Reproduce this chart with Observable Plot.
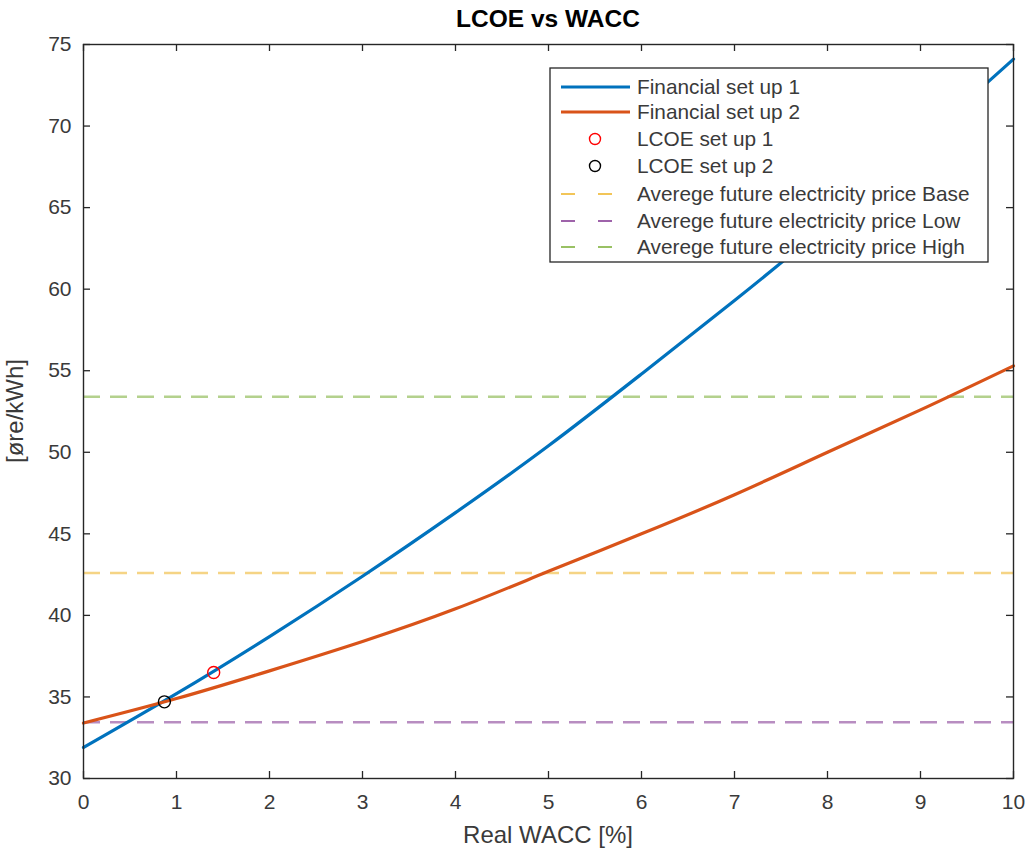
<!DOCTYPE html>
<html>
<head>
<meta charset="utf-8">
<script src="https://cdn.jsdelivr.net/npm/d3@7"></script>
<script src="https://cdn.jsdelivr.net/npm/@observablehq/plot@0.6"></script>
<style>
  html, body { margin: 0; padding: 0; background: #fff; }
  #chart { width: 1030px; height: 854px; }
  svg text { font-family: "Liberation Sans", Arial, Helvetica, sans-serif; }
</style>
</head>
<body>
<div id="chart"></div>
<script>
// ---- data ----
const wacc = [0, 1, 2, 3, 4, 5, 6, 7, 8, 9, 10];
const setup1 = [31.9, 35.2, 38.7, 42.4, 46.3, 50.4, 54.8, 59.3, 64.0, 69.0, 74.1];
const setup2 = [33.4, 34.9, 36.6, 38.4, 40.4, 42.7, 45.0, 47.4, 50.0, 52.6, 55.3];
const lcoePoints = [
  {name: "LCOE set up 1", x: 1.4, y: 36.5},
  {name: "LCOE set up 2", x: 0.87, y: 34.7}
];
const priceNames = ["Averege future electricity price Base", "Averege future electricity price Low", "Averege future electricity price High"];
const priceValues = [42.6, 33.45, 53.4];
const xTicks = [0, 1, 2, 3, 4, 5, 6, 7, 8, 9, 10];
const yTicks = [30, 35, 40, 45, 50, 55, 60, 65, 70, 75];

const C_BLUE = "#0072BD", C_ORANGE = "#D95319", C_YELLOW = "#EDB120", C_PURPLE = "#7E2F8E", C_GREEN = "#77AC30";
const priceColors = [C_YELLOW, C_PURPLE, C_GREEN];
const AX = "#262626";
const TXT = "#3a3a3a";

const s1 = wacc.map((x, i) => ({x, y: setup1[i]}));
const s2 = wacc.map((x, i) => ({x, y: setup2[i]}));
const prices = priceNames.map((n, i) => ({name: n, y: priceValues[i], color: priceColors[i]}));

const W = 1030, H = 854;
const mL = 83, mR = 17, mT = 44, mB = 76;
const yPx = (H - mT - mB) / 45;  // px per unit
const xPx = (W - mL - mR) / 10;
const tickLen = 7;

const chart = Plot.plot({
  width: W, height: H,
  marginLeft: mL, marginRight: mR, marginTop: mT, marginBottom: mB,
  style: {fontFamily: "Liberation Sans, Arial, sans-serif", fontSize: "21px", color: AX, background: "#fff"},
  x: {domain: [0, 10]},
  y: {domain: [30, 75]},
  marks: [
    Plot.ruleY(prices, {y: "y", stroke: "color", strokeWidth: 2.4, strokeOpacity: 0.55, strokeDasharray: "17,10"}),
    Plot.line(s1, {x: "x", y: "y", stroke: C_BLUE, strokeWidth: 3.2, curve: "natural"}),
    Plot.line(s2, {x: "x", y: "y", stroke: C_ORANGE, strokeWidth: 3.2, curve: "natural"}),
    Plot.dot(lcoePoints, {x: "x", y: "y", r: 6, stroke: d => d.name === "LCOE set up 1" ? "#ff0000" : "#000000", strokeWidth: 1.4, fill: "none"}),
    // inward tick marks (MATLAB style, box on)
    Plot.ruleX(xTicks, {x: d => d, y1: 30, y2: 30 + tickLen / yPx, stroke: AX, strokeWidth: 1.3}),
    Plot.ruleX(xTicks, {x: d => d, y1: 75, y2: 75 - tickLen / yPx, stroke: AX, strokeWidth: 1.3}),
    Plot.ruleY(yTicks, {y: d => d, x1: 0, x2: tickLen / xPx, stroke: AX, strokeWidth: 1.3}),
    Plot.ruleY(yTicks, {y: d => d, x1: 10, x2: 10 - tickLen / xPx, stroke: AX, strokeWidth: 1.3}),
    Plot.axisX(xTicks, {tickSize: 0, tickPadding: 16, label: null, fontSize: 21, fill: TXT}),
    Plot.axisY(yTicks, {tickSize: 0, tickPadding: 12, label: null, fontSize: 21, fill: TXT}),
    Plot.frame({stroke: AX, strokeWidth: 1.4})
  ]
});
document.getElementById("chart").appendChild(chart);

const svg = d3.select(chart);
const font = "Liberation Sans, Arial, sans-serif";
// title
svg.append("text").attr("x", mL + (W - mL - mR) / 2).attr("y", 18).attr("dy", "0.35em").attr("text-anchor", "middle")
  .attr("font-size", 24.5).attr("font-weight", "bold").attr("fill", "#000").attr("font-family", font).text("LCOE vs WACC");
// axis labels
svg.append("text").attr("x", mL + (W - mL - mR) / 2).attr("y", 835).attr("dy", "0.35em").attr("text-anchor", "middle")
  .attr("font-size", 24).attr("fill", TXT).attr("font-family", font).text("Real WACC [%]");
svg.append("text").attr("transform", `translate(15,${mT + (H - mT - mB) / 2}) rotate(-90)`).attr("dy", "0.35em").attr("text-anchor", "middle")
  .attr("font-size", 24).attr("fill", TXT).attr("font-family", font).text("[øre/kWh]");

// legend
const lg = svg.append("g");
lg.append("rect").attr("x", 550).attr("y", 68).attr("width", 438).attr("height", 194)
  .attr("fill", "#fff").attr("stroke", AX).attr("stroke-width", 1.3);
const rows = [
  {label: "Financial set up 1", type: "line", color: C_BLUE},
  {label: "Financial set up 2", type: "line", color: C_ORANGE},
  {label: lcoePoints[0].name, type: "dot", color: "#ff0000"},
  {label: lcoePoints[1].name, type: "dot", color: "#000000"},
  ...prices.map(p => ({label: p.name, type: "dash", color: p.color}))
];
const rowY = [87, 112, 139, 166, 194, 221, 247];
rows.forEach((r, i) => {
  const y = rowY[i];
  if (r.type === "line") {
    lg.append("line").attr("x1", 561).attr("x2", 630).attr("y1", y).attr("y2", y)
      .attr("stroke", r.color).attr("stroke-width", 3);
  } else if (r.type === "dot") {
    lg.append("circle").attr("cx", 595).attr("cy", y).attr("r", 5.5)
      .attr("fill", "none").attr("stroke", r.color).attr("stroke-width", 1.4);
  } else {
    lg.append("line").attr("x1", 561).attr("x2", 621).attr("y1", y).attr("y2", y)
      .attr("stroke", r.color).attr("stroke-opacity", 0.75).attr("stroke-width", 1.8).attr("stroke-dasharray", "14,23");
  }
  lg.append("text").attr("x", 637).attr("y", y).attr("dy", "0.35em").attr("font-size", 20.8)
    .attr("text-anchor", "start").attr("fill", TXT).attr("font-family", font).text(r.label);
});
</script>
</body>
</html>
